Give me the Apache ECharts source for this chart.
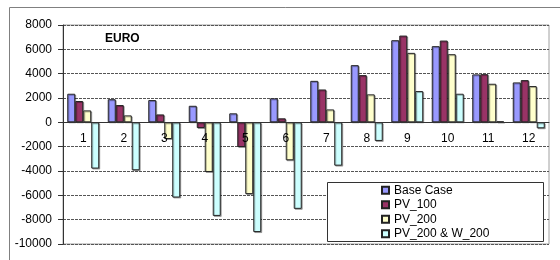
<!DOCTYPE html>
<html>
<head>
<meta charset="utf-8">
<script src="https://cdn.jsdelivr.net/npm/echarts@6/dist/echarts.min.js"></script>
<style>
  html, body { margin: 0; padding: 0; background: #fff; }
</style>
</head>
<body>
<div id="euroChart" style="width:560px;height:260px;"></div>
<script>
  // 数据
  var categories = ['1', '2', '3', '4', '5', '6', '7', '8', '9', '10', '11', '12'];
  var seriesNames = ['Base Case', 'PV_100', 'PV_200', 'PV_200 & W_200'];
  var baseCase = [2350, 1900, 1830, 1360, 740, 1970, 3410, 4700, 6750, 6260, 3940, 3280];
  var pv100 = [1750, 1420, 650, -470, -2030, 330, 2700, 3880, 7130, 6720, 3960, 3470];
  var pv200 = [980, 570, -1370, -4080, -5900, -3120, 1060, 2300, 5710, 5600, 3170, 2980];
  var pv200w200 = [-3800, -3940, -6180, -7690, -9020, -7110, -3560, -1530, 2570, 2350, 80, -490];
  var colors = ['#9999ff', '#993366', '#ffffcc', '#ccffff'];
  var yMin = -10000, yMax = 8000;

  var font = 'Liberation Sans, Arial, sans-serif';
  var gridTop = 25, gridBottom = 16, chartH = 260;
  var plotH = chartH - gridTop - gridBottom;
  // x轴放在0的位置（标签也跟着）
  var zeroOffset = -plotH * (0 - yMin) / (yMax - yMin);

  var chart = echarts.init(document.getElementById('euroChart'));

  function bar(name, data, color) {
    return {
      name: name,
      type: 'bar',
      data: data,
      barGap: '0%',
      barCategoryGap: '21%',
      itemStyle: {
        color: color,
        borderColor: '#222',
        borderWidth: 1,
        shadowColor: 'rgba(0,0,0,0.3)',
        shadowOffsetX: 1,
        shadowOffsetY: 1
      }
    };
  }

  chart.setOption({
    animation: false,
    title: {
      text: 'EURO',
      left: 105,
      top: 33,
      padding: 0,
      textStyle: { fontFamily: font, fontSize: 12, fontWeight: 'bold', color: '#000' }
    },
    graphic: [
      // 外框
      { type: 'rect', left: 7, top: 5, shape: { width: 600, height: 300 },
        style: { fill: 'none', stroke: '#808080', lineWidth: 1 }, z: -1 },
      // 图例框
      { type: 'rect', left: 327, top: 182, shape: { width: 216, height: 59 },
        style: { fill: '#fff', stroke: '#333', lineWidth: 1 }, z: 10 }
    ],
    legend: {
      orient: 'vertical',
      left: 381,
      top: 183,
      padding: 0,
      itemGap: 0,
      itemWidth: 7,
      itemHeight: 7,
      z: 11,
      icon: 'rect',
      data: seriesNames,
      textStyle: { fontFamily: font, fontSize: 12, color: '#000', lineHeight: 14.5 }
    },
    grid: {
      left: 63,
      top: gridTop,
      right: 11,
      bottom: gridBottom,
      show: true,
      borderColor: '#a0a0a0',
      borderWidth: 1
    },
    xAxis: {
      type: 'category',
      data: categories,
      z: 5,
      offset: zeroOffset,
      axisLine: { onZero: false, lineStyle: { color: '#333', width: 1 } },
      axisTick: { length: 3, lineStyle: { color: '#333' } },
      axisLabel: { margin: 10, fontFamily: font, fontSize: 12, color: '#000' }
    },
    yAxis: {
      type: 'value',
      min: yMin,
      max: yMax,
      interval: 2000,
      axisLine: { show: true, lineStyle: { color: '#333' } },
      axisTick: { show: true, length: 5, lineStyle: { color: '#333' } },
      axisLabel: {
        margin: 11, fontFamily: font, fontSize: 12, color: '#000',
        formatter: function (v) { return String(v); }
      },
      splitLine: { lineStyle: { color: '#555', type: [3, 1], width: 1 } }
    },
    series: [
      bar(seriesNames[0], baseCase, colors[0]),
      bar(seriesNames[1], pv100, colors[1]),
      bar(seriesNames[2], pv200, colors[2]),
      bar(seriesNames[3], pv200w200, colors[3])
    ]
  });
</script>
</body>
</html>
